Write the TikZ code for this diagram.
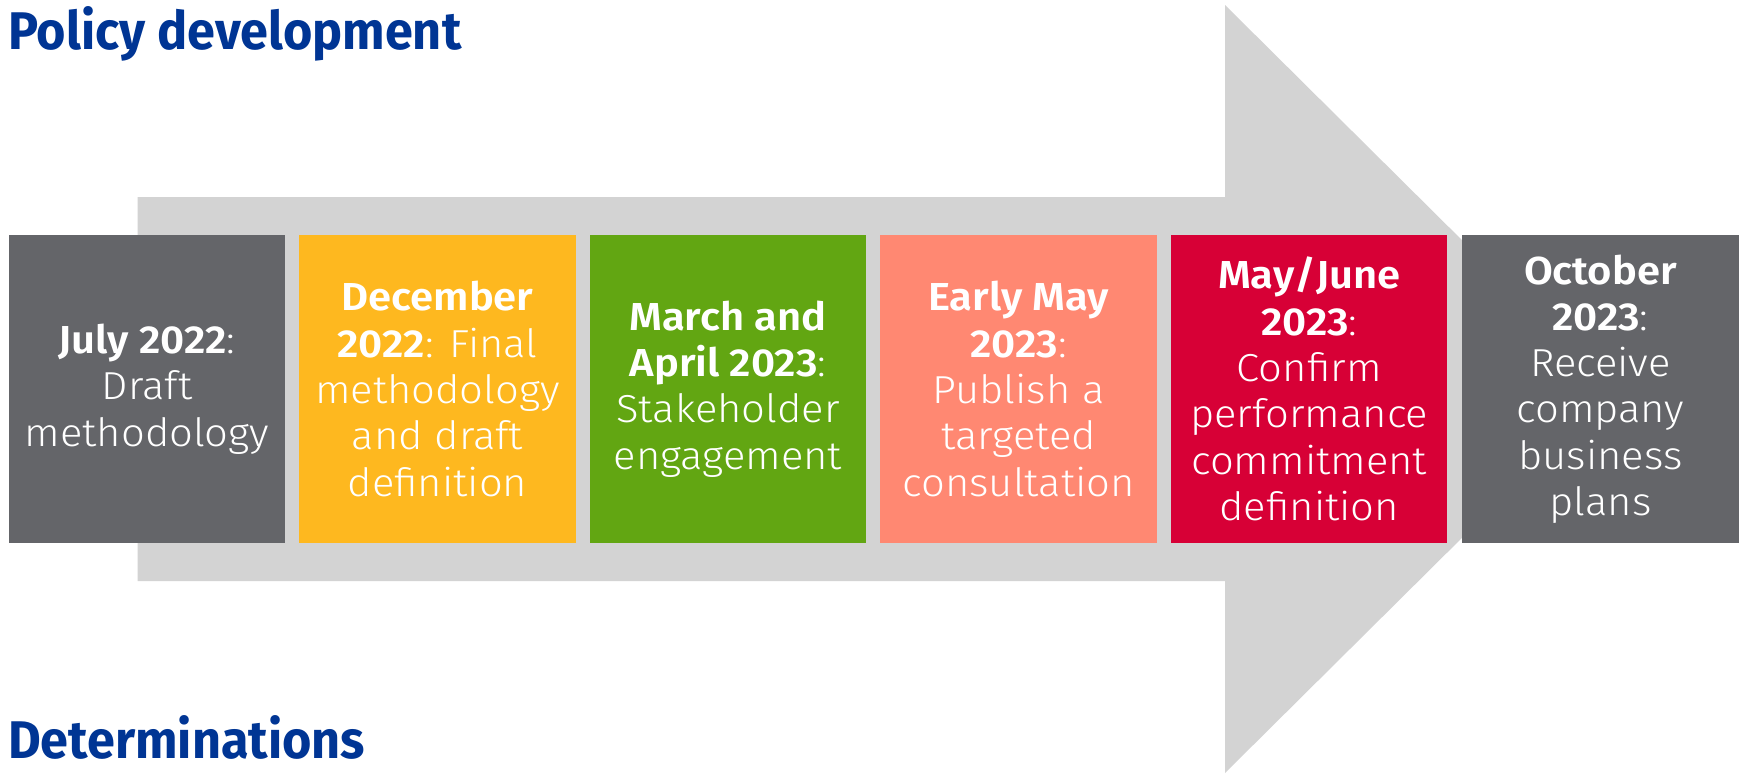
\documentclass[tikz,border=0pt]{standalone}
\usepackage{fontspec}
\setmainfont{Fira Sans}[UprightFont=* Light, BoldFont=* SemiBold, FakeStretch=1.07]
\newfontfamily\titlefont{Fira Sans}[UprightFont=* Bold, FakeStretch=0.95]
\definecolor{arrowgrey}{HTML}{D3D3D3}
\definecolor{boxgrey}{HTML}{646569}
\definecolor{boxyellow}{HTML}{FEB81F}
\definecolor{boxgreen}{HTML}{62A612}
\definecolor{boxsalmon}{HTML}{FF8872}
\definecolor{boxred}{HTML}{D70036}
\definecolor{titleblue}{HTML}{003594}
\tikzset{
  stagebox/.style={minimum width=276.5pt, minimum height=307.3pt, inner sep=0pt,
    text=white, align=center, font=\fontsize{39}{46.3}\selectfont},
  titletext/.style={anchor=base west, inner sep=0pt, text=titleblue,
    font=\titlefont\fontsize{53}{58}\selectfont}
}
\begin{document}
\begin{tikzpicture}[x=1pt,y=-1pt]
\useasboundingbox (0,0) rectangle (1739,774);
\fill[arrowgrey] (137.5,197) -- (1225,197) -- (1225,5) -- (1612,389) -- (1225,773) -- (1225,581) -- (137.5,581) -- cycle;
\node[stagebox, fill=boxgrey] (b1) at (147,389) {\textbf{July 2022}:\\Draft\\methodology};
\node[stagebox, fill=boxyellow] (b2) at (437.5,389) {\textbf{December}\\\textbf{2022}: Final\\methodology\\and draft\\definition};
\node[stagebox, fill=boxgreen] (b3) at (728,389) {\textbf{March and}\\\textbf{April 2023}:\\Stakeholder\\engagement};
\node[stagebox, fill=boxsalmon] (b4) at (1018.7,389) {\textbf{Early May}\\\textbf{2023}:\\Publish a\\targeted\\consultation};
\node[stagebox, fill=boxred] (b5) at (1309.2,389) {\textbf{May/June}\\\textbf{2023}:\\Confirm\\performance\\commitment\\definition};
\node[stagebox, fill=boxgrey] (b6) at (1600.4,389) {\textbf{October}\\\textbf{2023}:\\Receive\\company\\business\\plans};
\node[titletext] (t1) at (8,49) {Policy development};
\node[titletext] (t2) at (8,758) {Determinations};
\end{tikzpicture}
\end{document}
